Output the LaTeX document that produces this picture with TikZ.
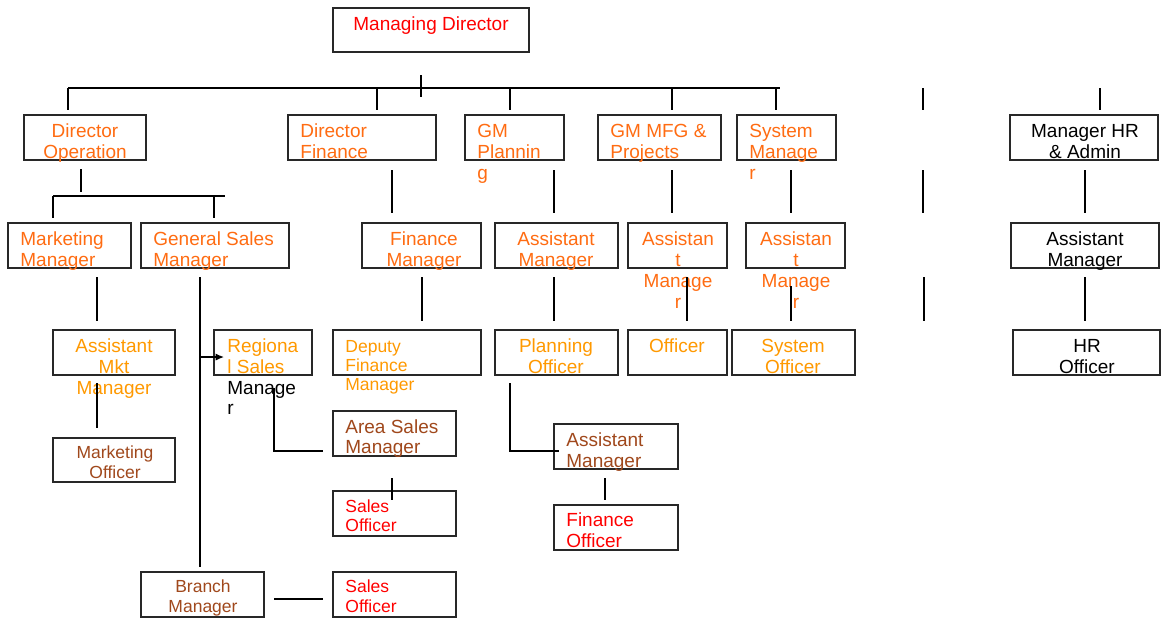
\documentclass[tikz,border=0pt]{standalone}
\usepackage{fontspec}
\setmainfont{Liberation Sans}
\usetikzlibrary{fit,arrows.meta}
\definecolor{corange}{RGB}{255,108,18}
\definecolor{clorange}{RGB}{255,153,0}
\definecolor{cbrown}{RGB}{160,72,28}
\definecolor{cred}{RGB}{255,0,0}
\definecolor{cline}{RGB}{40,40,40}
\newcommand\fnorm{\fontsize{9.5}{10.5}\selectfont}
\newcommand\fsmall{\fontsize{8.75}{9.7}\selectfont}
\begin{document}
\begin{tikzpicture}[x=0.5pt,y=-0.5pt,
  bx/.style={draw=cline,line width=0.75pt,inner sep=0pt},
  tl/.style={inner sep=0pt,anchor=base west,font=\fnorm},
  tc/.style={inner sep=0pt,anchor=base,font=\fnorm},
  sm/.style={font=\fsmall},
  ln/.style={draw=black,line width=0.65pt}]
\fill[white] (0,0) rectangle (1161,618);
\useasboundingbox (0,0) rectangle (1161,618);
% boxes
\node[bx,fit={(333,8)(529,52)}] (md) {};
\node[bx,fit={(24,115)(146,160)}] (dop) {};
\node[bx,fit={(288,115)(436,160)}] (dfi) {};
\node[bx,fit={(465,115)(564,160)}] (gmp) {};
\node[bx,fit={(598,115)(721,160)}] (gmm) {};
\node[bx,fit={(737,115)(836,160)}] (sys) {};
\node[bx,fit={(1010,115)(1158,160)}] (hr) {};
\node[bx,fit={(8,223)(131,268)}] (mm) {};
\node[bx,fit={(141,223)(289,268)}] (gsm) {};
\node[bx,fit={(362,223)(481,268)}] (fm) {};
\node[bx,fit={(495,223)(618,268)}] (amp) {};
\node[bx,fit={(628,223)(727,268)}] (amg) {};
\node[bx,fit={(746,223)(845,268)}] (ams) {};
\node[bx,fit={(1011,223)(1159,268)}] (amh) {};
\node[bx,fit={(53,330)(175,375)}] (amm) {};
\node[bx,fit={(214,330)(312,375)}] (rsm) {};
\node[bx,fit={(333,330)(481,375)}] (dfm) {};
\node[bx,fit={(495,330)(618,375)}] (po) {};
\node[bx,fit={(628,330)(727,375)}] (off) {};
\node[bx,fit={(732,330)(855,375)}] (so) {};
\node[bx,fit={(1013,330)(1160,375)}] (hro) {};
\node[bx,fit={(53,438)(175,482)}] (mo) {};
\node[bx,fit={(333,411)(456,456)}] (asm) {};
\node[bx,fit={(554,424)(678,469)}] (amf) {};
\node[bx,fit={(333,491)(456,536)}] (so1) {};
\node[bx,fit={(554,505)(678,550)}] (fo) {};
\node[bx,fit={(141,572)(264,617)}] (bm) {};
\node[bx,fit={(333,572)(456,617)}] (so2) {};
% texts level 0/1
\node[tc,text=cred] (tmd) at (431,30) {Managing Director};
\node[tc,text=corange] (tdop1) at (85,137) {Director};
\node[tc,text=corange] (tdop2) at (85,158) {Operation};
\node[tl,text=corange] (tdfi1) at (300,137) {Director};
\node[tl,text=corange] (tdfi2) at (300,158) {Finance};
\node[tl,text=corange] (tgmp1) at (477,137) {GM};
\node[tl,text=corange] (tgmp2) at (477,158) {Plannin};
\node[tl,text=corange] (tgmp3) at (477,179) {g};
\node[tl,text=corange] (tgmm1) at (610,137) {GM MFG \&};
\node[tl,text=corange] (tgmm2) at (610,158) {Projects};
\node[tl,text=corange] (tsys1) at (749,137) {System};
\node[tl,text=corange] (tsys2) at (749,158) {Manage};
\node[tl,text=corange] (tsys3) at (749,179) {r};
\node[tc,text=black] (thr1) at (1085,137) {Manager HR};
\node[tc,text=black] (thr2) at (1085,158) {\& Admin};
% level 2
\node[tl,text=corange] (tmm1) at (20,245) {Marketing};
\node[tl,text=corange] (tmm2) at (20,266) {Manager};
\node[tl,text=corange] (tgsm1) at (153,245) {General Sales};
\node[tl,text=corange] (tgsm2) at (153,266) {Manager};
\node[tc,text=corange] (tfm1) at (424,245) {Finance};
\node[tc,text=corange] (tfm2) at (424,266) {Manager};
\node[tc,text=corange] (tamp1) at (556,245) {Assistant};
\node[tc,text=corange] (tamp2) at (556,266) {Manager};
\node[tc,text=corange] (tamg1) at (678,245) {Assistan};
\node[tc,text=corange] (tamg2) at (678,266) {t};
\node[tc,text=corange] (tamg3) at (678,287) {Manage};
\node[tc,text=corange] (tamg4) at (678,308) {r};
\node[tc,text=corange] (tams1) at (796,245) {Assistan};
\node[tc,text=corange] (tams2) at (796,266) {t};
\node[tc,text=corange] (tams3) at (796,287) {Manage};
\node[tc,text=corange] (tams4) at (796,308) {r};
\node[tc,text=black] (tamh1) at (1085,245) {Assistant};
\node[tc,text=black] (tamh2) at (1085,266) {Manager};
% level 3
\node[tc,text=clorange] (tamm1) at (114,352) {Assistant};
\node[tc,text=clorange] (tamm2) at (114,373) {Mkt};
\node[tc,text=clorange] (tamm3) at (114,394) {Manager};
\node[tl,text=clorange] (trsm1) at (227,352) {Regiona};
\node[tl,text=clorange] (trsm2) at (227,373) {l Sales};
\node[tl,text=black] (trsm3) at (227,394) {Manage};
\node[tl,text=black] (trsm4) at (227,414) {r};
\node[tl,sm,text=clorange] (tdfm1) at (345,352) {Deputy};
\node[tl,sm,text=clorange] (tdfm2) at (345,371) {Finance};
\node[tl,sm,text=clorange] (tdfm3) at (345,390) {Manager};
\node[tc,text=clorange] (tpo1) at (556,352) {Planning};
\node[tc,text=clorange] (tpo2) at (556,373) {Officer};
\node[tc,text=clorange] (toff) at (677,352) {Officer};
\node[tc,text=clorange] (tso1) at (793,352) {System};
\node[tc,text=clorange] (tso2) at (793,373) {Officer};
\node[tc,text=black] (thro1) at (1087,352) {HR};
\node[tc,text=black] (thro2) at (1087,373) {Officer};
% lower levels
\node[tc,sm,text=cbrown] (tmo1) at (115,458) {Marketing};
\node[tc,sm,text=cbrown] (tmo2) at (115,478) {Officer};
\node[tl,text=cbrown] (tasm1) at (345,433) {Area Sales};
\node[tl,text=cbrown] (tasm2) at (345,453) {Manager};
\node[tl,text=cbrown] (tamf1) at (566,446) {Assistant};
\node[tl,text=cbrown] (tamf2) at (566,467) {Manager};
\node[tl,sm,text=cred] (tso11) at (345,512) {Sales};
\node[tl,sm,text=cred] (tso12) at (345,531) {Officer};
\node[tl,text=cred] (tfo1) at (566,526) {Finance};
\node[tl,text=cred] (tfo2) at (566,547) {Officer};
\node[tc,sm,text=cbrown] (tbm1) at (203,592) {Branch};
\node[tc,sm,text=cbrown] (tbm2) at (203,612) {Manager};
\node[tl,sm,text=cred] (tso21) at (345,592) {Sales};
\node[tl,sm,text=cred] (tso22) at (345,612) {Officer};
% connector coordinates
\coordinate (k1) at (421,75);  \coordinate (k2) at (421,97);
\coordinate (h1) at (68,88);   \coordinate (h2) at (780,88);
\coordinate (d1a) at (68,88);  \coordinate (d1b) at (68,110);
\coordinate (d2a) at (377,88); \coordinate (d2b) at (377,110);
\coordinate (d3a) at (510,88); \coordinate (d3b) at (510,110);
\coordinate (d4a) at (672,88); \coordinate (d4b) at (672,110);
\coordinate (d5a) at (776,88); \coordinate (d5b) at (776,110);
\coordinate (d6a) at (923,88); \coordinate (d6b) at (923,110);
\coordinate (d7a) at (1100,88); \coordinate (d7b) at (1100,110);
\coordinate (e1a) at (81,169); \coordinate (e1b) at (81,192);
\coordinate (e2a) at (392,170); \coordinate (e2b) at (392,213);
\coordinate (e3a) at (554,170); \coordinate (e3b) at (554,213);
\coordinate (e4a) at (672,170); \coordinate (e4b) at (672,213);
\coordinate (e5a) at (791,170); \coordinate (e5b) at (791,213);
\coordinate (e6a) at (923,170); \coordinate (e6b) at (923,213);
\coordinate (e7a) at (1085,170); \coordinate (e7b) at (1085,213);
\coordinate (g1) at (53,196); \coordinate (g2) at (225,196);
\coordinate (g1b) at (53,218); \coordinate (g3) at (214,196); \coordinate (g3b) at (214,218);
\coordinate (f1a) at (97,277); \coordinate (f1b) at (97,321);
\coordinate (f2a) at (200,277); \coordinate (f2b) at (200,567);
\coordinate (ar1) at (200,357); \coordinate (ar2) at (224,357);
\coordinate (f3a) at (422,277); \coordinate (f3b) at (422,321);
\coordinate (f4a) at (554,277); \coordinate (f4b) at (554,321);
\coordinate (f5a) at (687,277); \coordinate (f5b) at (687,321);
\coordinate (f6a) at (791,286); \coordinate (f6b) at (791,321);
\coordinate (f7a) at (924,277); \coordinate (f7b) at (924,321);
\coordinate (f8a) at (1085,277); \coordinate (f8b) at (1085,321);
\coordinate (m1a) at (97,383); \coordinate (m1b) at (97,428);
\coordinate (r1) at (274,388); \coordinate (r2) at (274,451); \coordinate (r3) at (323,451);
\coordinate (p1) at (510,383); \coordinate (p2) at (510,451); \coordinate (p3) at (559,451);
\coordinate (s1a) at (392,478); \coordinate (s1b) at (392,500);
\coordinate (s2a) at (605,478); \coordinate (s2b) at (605,500);
\coordinate (b1) at (274,599); \coordinate (b2) at (323,599);
% connectors
\draw[ln] (k1) -- (k2);
\draw[ln] (h1) -- (h2);
\foreach \i in {1,...,7} {\draw[ln] (d\i a) -- (d\i b);}
\foreach \i in {1,...,7} {\draw[ln] (e\i a) -- (e\i b);}
\draw[ln] (g1) -- (g2);
\draw[ln] (g1) -- (g1b);
\draw[ln] (g3) -- (g3b);
\foreach \i in {1,...,8} {\draw[ln] (f\i a) -- (f\i b);}
\draw[ln,-{Latex[length=4.2pt,width=3.6pt]}] (ar1) -- (ar2);
\draw[ln] (m1a) -- (m1b);
\draw[ln] (r1) -- (r2) -- (r3);
\draw[ln] (p1) -- (p2) -- (p3);
\draw[ln] (s1a) -- (s1b);
\draw[ln] (s2a) -- (s2b);
\draw[ln] (b1) -- (b2);
\end{tikzpicture}
\end{document}
